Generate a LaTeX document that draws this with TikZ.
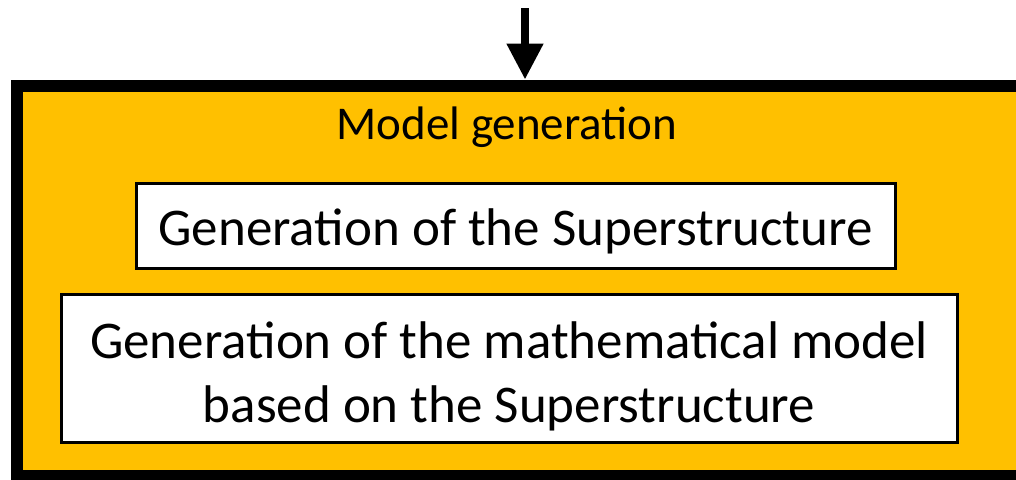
\documentclass[tikz,border=0pt]{standalone}
\usepackage{fontspec}
\setmainfont{Carlito}
\definecolor{genorange}{HTML}{FFC000}
\usetikzlibrary{arrows.meta,positioning}
\begin{document}
\begin{tikzpicture}[x=1pt,y=-1pt,
    outerbox/.style={draw=black,line width=12pt,fill=genorange,minimum width=1023pt,minimum height=390.5pt,inner sep=0pt},
    stepbox/.style={draw=black,line width=3pt,fill=white,inner sep=0pt,align=center,font=\fontsize{53}{64}\selectfont},
    arr/.style={-{Triangle[width=35pt,length=36pt]},line width=8pt}]
    \useasboundingbox (0,0) rectangle (1016,479);
    \clip (0,0) rectangle (1016,479);
    \node[outerbox] (gen) at (528.5,280.75) {};
    \node[font=\fontsize{47}{56}\selectfont,anchor=base] (title) at (507,139) {Model generation};
    \node[stepbox,minimum width=759pt,minimum height=85pt,text height=50pt,text depth=10.6pt] (sup) at (515.5,226) {Generation of the Superstructure};
    \node[stepbox,minimum width=896pt,minimum height=148pt] (math) at (509,368) {\rule{0pt}{56pt}Generation of the mathematical model\\\rule[-12pt]{0pt}{12pt}based on the Superstructure};
    \coordinate (in) at (525,8);
    \draw[arr] (in) -- (in |- gen.north);
\end{tikzpicture}
\end{document}
